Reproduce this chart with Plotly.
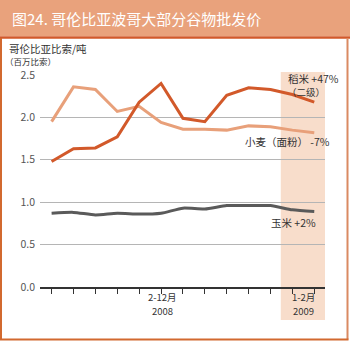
import plotly.graph_objects as go

months = ["2008-02", "2008-03", "2008-04", "2008-05", "2008-06", "2008-07", "2008-08",
          "2008-09", "2008-10", "2008-11", "2008-12", "2009-01", "2009-02"]
rice = [1.48, 1.63, 1.64, 1.77, 2.18, 2.40, 1.99, 1.95, 2.26, 2.35, 2.33, 2.27, 2.18]
wheat = [1.95, 2.36, 2.33, 2.07, 2.13, 1.94, 1.86, 1.86, 1.85, 1.90, 1.89, 1.85, 1.82]
corn = [0.87, 0.88, 0.85, 0.87, 0.86, 0.87, 0.93, 0.92, 0.96, 0.96, 0.96, 0.91, 0.89]
y_ticks = [0.0, 0.5, 1.0, 1.5, 2.0, 2.5]
y_tick_text = ["0.0", "0.5", "1.0", "1.5", "2.0", "2.5"]

W, H = 350, 341
L, R, T, B = 40, 25, 75, 54
PW, PH = W - L - R, H - T - B

def px(x):
    return (x - L) / PW

def py(y):
    return (H - B - y) / PH

FONT = "Noto Sans CJK SC, Noto Sans, sans-serif"
xi = list(range(len(months)))

fig = go.Figure()
fig.add_trace(go.Scatter(x=xi, y=wheat, mode="lines", line=dict(color="#E8A07A", width=3), hoverinfo="skip"))
fig.add_trace(go.Scatter(x=xi, y=rice, mode="lines", line=dict(color="#D2592A", width=3), hoverinfo="skip"))
fig.add_trace(go.Scatter(x=xi, y=corn, mode="lines", line=dict(color="#5A5A5A", width=3, shape="spline", smoothing=0.6), hoverinfo="skip"))

shapes = [
    # title bar
    dict(type="rect", xref="paper", yref="paper", x0=px(0), x1=px(W), y0=py(36), y1=py(0),
         fillcolor="#E9A27C", line=dict(width=0), layer="below"),
    dict(type="line", xref="paper", yref="paper", x0=px(0), x1=px(W), y0=py(37.5), y1=py(37.5),
         line=dict(color="#D2592A", width=2.5)),
    # border
    dict(type="line", xref="paper", yref="paper", x0=px(1), x1=px(1), y0=py(38), y1=py(339.5),
         line=dict(color="#D2692F", width=2)),
    dict(type="line", xref="paper", yref="paper", x0=px(347.5), x1=px(347.5), y0=py(38), y1=py(339.5),
         line=dict(color="#DA8A62", width=2)),
    dict(type="line", xref="paper", yref="paper", x0=px(0), x1=px(348.5), y0=py(339.5), y1=py(339.5),
         line=dict(color="#D2692F", width=2)),
    # shaded 2009 region
    dict(type="rect", xref="x", yref="paper", x0=10.47, x1=12.62, y0=py(320), y1=py(72),
         fillcolor="#F8DDCB", line=dict(width=0), layer="below"),
]

annotations = [
    dict(text="图24. 哥伦比亚波哥大部分谷物批发价", x=px(10), y=py(18), xanchor="left", yanchor="middle",
         font=dict(size=15, color="white", family=FONT)),
    dict(text="哥伦比亚比索/吨", x=px(7), y=py(48), xanchor="left", yanchor="middle",
         font=dict(size=10.5, color="#333", family=FONT)),
    dict(text="（百万比索）", x=px(3), y=py(60.5), xanchor="left", yanchor="middle",
         font=dict(size=8.5, color="#333", family=FONT)),
    dict(text="稻米 +47%", x=px(341), y=py(78.5), xanchor="right", yanchor="middle",
         font=dict(size=10.5, color="#333", family=FONT)),
    dict(text="（二级）", x=px(306), y=py(92), xanchor="center", yanchor="middle",
         font=dict(size=9.5, color="#333", family=FONT)),
    dict(text="小麦（面粉） -7%", x=px(332), y=py(141), xanchor="right", yanchor="middle",
         font=dict(size=10.5, color="#333", family=FONT)),
    dict(text="玉米 +2%", x=px(318), y=py(222), xanchor="right", yanchor="middle",
         font=dict(size=10.5, color="#333", family=FONT)),
    dict(text="2-12月", x=5.05, xref="x", y=py(296.5), xanchor="center", yanchor="middle",
         font=dict(size=9.5, color="#333", family=FONT)),
    dict(text="2008", x=5.05, xref="x", y=py(310.5), xanchor="center", yanchor="middle",
         font=dict(size=9.5, color="#333", family=FONT)),
    dict(text="1-2月", x=11.5, xref="x", y=py(296.5), xanchor="center", yanchor="middle",
         font=dict(size=9.5, color="#333", family=FONT)),
    dict(text="2009", x=11.5, xref="x", y=py(310.5), xanchor="center", yanchor="middle",
         font=dict(size=9.5, color="#333", family=FONT)),
]
for a in annotations:
    a.setdefault("xref", "paper")
    a.setdefault("yref", "paper")
    a["showarrow"] = False

fig.update_layout(
    width=W, height=H,
    margin=dict(l=L, r=R, t=T, b=B),
    paper_bgcolor="white", plot_bgcolor="rgba(0,0,0,0)",
    showlegend=False,
    shapes=shapes,
    annotations=annotations,
    xaxis=dict(range=[-0.53, 12.49], tickvals=xi, ticktext=[""] * len(xi), showticklabels=False,
               ticks="outside", ticklen=5, tickcolor="#333", tickwidth=1,
               showline=True, linecolor="#333", linewidth=2, showgrid=False, zeroline=False,
               fixedrange=True),
    yaxis=dict(range=[0, 2.5], tickvals=y_ticks, ticktext=y_tick_text, showgrid=True,
               gridcolor="#B5B5B5", gridwidth=1, zeroline=False, showline=False, ticks="",
               tickfont=dict(size=10.5, color="#555", family=FONT), ticklabelstandoff=4,
               fixedrange=True),
)

fig.write_html("out.html")
